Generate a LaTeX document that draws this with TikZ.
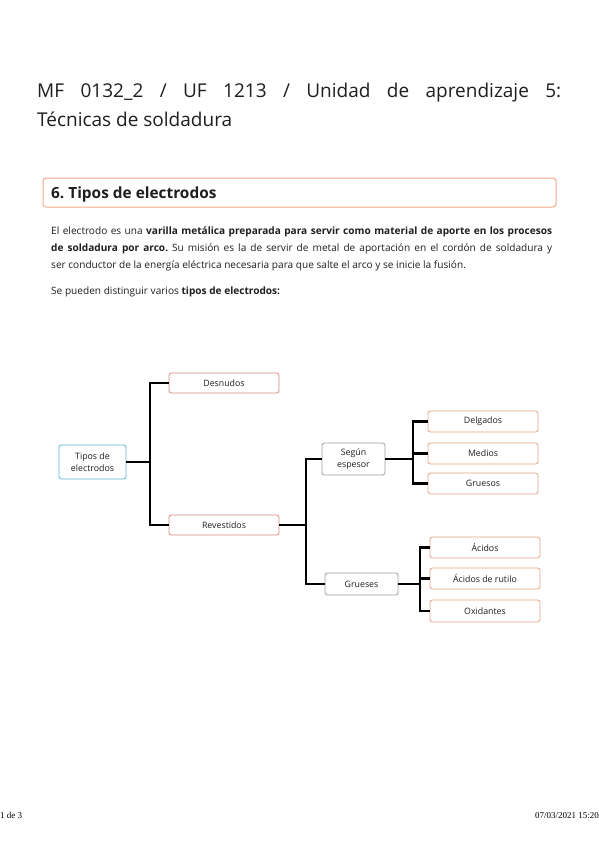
\documentclass[tikz,border=0pt]{standalone}
\usepackage{fontspec}
\setmainfont{Open Sans}
\newfontfamily\footfont{Liberation Serif}
\frenchspacing
\definecolor{redb}{HTML}{D98880}
\definecolor{orb}{HTML}{E3A384}
\definecolor{grb}{HTML}{A0A0A0}
\definecolor{blb}{HTML}{5BB3D6}
\definecolor{headb}{HTML}{F2A88A}
\definecolor{txt}{HTML}{1E1E1E}
\tikzset{
  box/.style={draw, rounded corners=2.5pt, line width=0.8pt, fill=white, inner sep=0pt,
    align=center, text=txt, font=\fontsize{8.8}{12.5}\selectfont},
  redbox/.style={box, draw=redb, minimum width=110pt, minimum height=20pt},
  orbox/.style={box, draw=orb, minimum width=110pt, minimum height=21pt},
  conn/.style={line width=2.7pt, black},
  para/.style={anchor=base west, inner sep=0pt, text=txt, font=\fontsize{10.1}{12}\selectfont},
}
\begin{document}
\begin{tikzpicture}[x=1pt,y=-1pt]
\useasboundingbox[fill=white] (0,0) rectangle (599,848);
% title
\node[anchor=base west, inner sep=0pt, text=txt, font=\fontsize{19}{24}\selectfont] (t1) at (37,98)
  {\makebox[524pt][s]{MF 0132\_2 / UF 1213 / Unidad de aprendizaje 5:}};
\node[anchor=base west, inner sep=0pt, text=txt, font=\fontsize{19}{24}\selectfont] (t2) at (37,126)
  {Técnicas de soldadura};
% heading
\draw[headb, line width=1pt, rounded corners=3pt] (43,178) rectangle (556,207);
\node[anchor=base west, inner sep=0pt, text=txt, font=\fontsize{15.4}{20}\selectfont\bfseries] (h) at (51,198)
  {6. Tipos de electrodos};
% paragraph
\node[para] (p1) at (51,234.5) {\makebox[501pt][s]{El electrodo es una \textbf{varilla metálica preparada para servir como material de aporte en los procesos}}};
\node[para] (p2) at (51,251.5) {\makebox[501pt][s]{\textbf{de soldadura por arco.} Su misión es la de servir de metal de aportación en el cordón de soldadura y}};
\node[para] (p3) at (51,268.5) {ser conductor de la energía eléctrica necesaria para que salte el arco y se inicie la fusión.};
\node[para] (p4) at (51,294.5) {Se pueden distinguir varios \textbf{tipos de electrodos:}};
% diagram nodes
\node[box, draw=blb, minimum width=67pt, minimum height=34pt] (tipos) at (92.5,462) {Tipos de\\electrodos};
\node[redbox] (desn) at (224,383) {Desnudos};
\node[redbox] (rev) at (224,525) {Revestidos};
\node[box, draw=grb, minimum width=63pt, minimum height=32pt] (segun) at (353.5,459) {Según\\espesor};
\node[box, draw=grb, minimum width=73pt, minimum height=22pt] (grueses) at (361.5,584) {Grueses};
\node[orbox] (delg) at (483,421.5) {Delgados};
\node[orbox] (medios) at (483,453.5) {Medios};
\node[orbox] (gruesos) at (483,483.5) {Gruesos};
\node[orbox] (acidos) at (485,547.5) {Ácidos};
\node[orbox] (rutilo) at (485,578.5) {Ácidos de rutilo};
\node[orbox, minimum height=22pt] (oxid) at (485,611) {Oxidantes};
% junctions
\coordinate (j1) at (150,462);
\coordinate (j2) at (306,525);
\coordinate (j3) at (413,459);
\coordinate (j4) at (420,584);
% connectors
\draw[conn] (tipos.east) -- (j1);
\draw[conn] (desn.west) -| (j1) |- (rev.west);
\draw[conn] (rev.east) -- (j2);
\draw[conn] (segun.west) -| (j2) |- (grueses.west);
\draw[conn] (segun.east) -- (j3);
\draw[conn] (delg.west) -| (j3) |- (gruesos.west);
\draw[conn] (medios.west) -- (medios.west -| j3);
\draw[conn] (grueses.east) -- (j4);
\draw[conn] (acidos.west) -| (j4) |- (oxid.west);
\draw[conn] (rutilo.west) -- (rutilo.west -| j4);
% footer
\node[anchor=base west, inner sep=0pt, font=\footfont\fontsize{9}{11}\selectfont] (f1) at (0,818) {1 de 3};
\node[anchor=base east, inner sep=0pt, font=\footfont\fontsize{9}{11}\selectfont] (f2) at (599,818) {07/03/2021 15:20};
\end{tikzpicture}
\end{document}
